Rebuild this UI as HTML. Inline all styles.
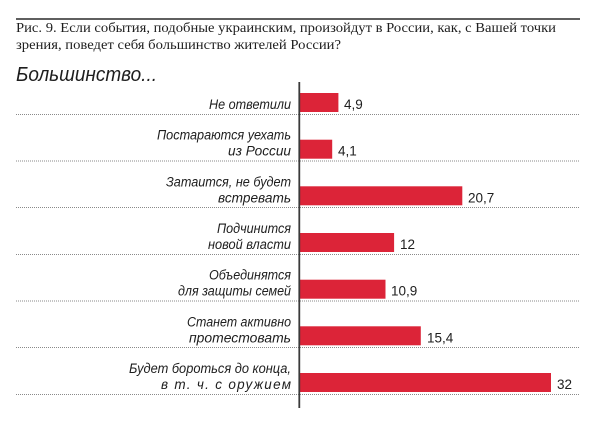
<!DOCTYPE html>
<html>
<head>
<meta charset="utf-8">
<style>
html,body{margin:0;padding:0;background:#fff;}
svg{display:block;}
.t{font-family:"Liberation Serif","DejaVu Serif",serif;font-size:14px;fill:#1e1e1e;}
.h{font-family:"Liberation Sans","DejaVu Sans",sans-serif;font-style:italic;font-size:20px;fill:#1e1e1e;}
.l{font-family:"Liberation Sans","DejaVu Sans",sans-serif;font-style:italic;font-size:13.5px;fill:#1e1e1e;}
.v{font-family:"Liberation Sans","DejaVu Sans",sans-serif;font-size:13.5px;fill:#1e1e1e;}
.d{stroke:#8a8a8a;stroke-width:1;stroke-dasharray:1 1;}
.b{fill:#dc2438;}
</style>
</head>
<body>
<svg width="600" height="427" viewBox="0 0 600 427" xmlns="http://www.w3.org/2000/svg">
<rect width="600" height="427" fill="#fff"/>
<line x1="16" y1="19" x2="580" y2="19" stroke="#2a2a2a" stroke-width="1.6"/>
<text class="t" x="16" y="32" textLength="540" lengthAdjust="spacingAndGlyphs">Рис. 9. Если события, подобные украинским, произойдут в России, как, с Вашей точки</text>
<text class="t" x="16" y="49" textLength="325" lengthAdjust="spacingAndGlyphs">зрения, поведет себя большинство жителей России?</text>
<text class="h" x="16" y="81" textLength="141" lengthAdjust="spacingAndGlyphs">Большинство...</text>

<line class="d" x1="16" y1="114.5" x2="580" y2="114.5"/>
<line class="d" x1="16" y1="161" x2="580" y2="161"/>
<line class="d" x1="16" y1="207.5" x2="580" y2="207.5"/>
<line class="d" x1="16" y1="254.5" x2="580" y2="254.5"/>
<line class="d" x1="16" y1="301" x2="580" y2="301"/>
<line class="d" x1="16" y1="347.5" x2="580" y2="347.5"/>
<line class="d" x1="16" y1="394.5" x2="580" y2="394.5"/>

<rect class="b" x="300" y="93" width="38.4" height="19"/>
<rect class="b" x="300" y="139.7" width="32.2" height="19"/>
<rect class="b" x="300" y="186.3" width="162.3" height="19"/>
<rect class="b" x="300" y="233" width="94.1" height="19"/>
<rect class="b" x="300" y="279.7" width="85.5" height="19"/>
<rect class="b" x="300" y="326.3" width="120.8" height="19"/>
<rect class="b" x="300" y="373" width="251" height="19"/>

<line x1="299.3" y1="82" x2="299.3" y2="408" stroke="#3a3a3a" stroke-width="1.8"/>

<text class="v" x="344" y="109">4,9</text>
<text class="v" x="338" y="155.7">4,1</text>
<text class="v" x="468" y="202.3">20,7</text>
<text class="v" x="400" y="249">12</text>
<text class="v" x="391" y="295.7">10,9</text>
<text class="v" x="427" y="342.3">15,4</text>
<text class="v" x="557" y="389">32</text>

<g text-anchor="end">
<text class="l" x="291" y="109" textLength="82" lengthAdjust="spacingAndGlyphs">Не ответили</text>
<text class="l" x="291" y="139.7" textLength="134" lengthAdjust="spacingAndGlyphs">Постараются уехать</text>
<text class="l" x="291" y="155.7" textLength="63" lengthAdjust="spacingAndGlyphs">из России</text>
<text class="l" x="291" y="186.3" textLength="125" lengthAdjust="spacingAndGlyphs">Затаится, не будет</text>
<text class="l" x="291" y="202.3" textLength="73" lengthAdjust="spacingAndGlyphs">встревать</text>
<text class="l" x="291" y="233" textLength="74" lengthAdjust="spacingAndGlyphs">Подчинится</text>
<text class="l" x="291" y="249" textLength="83" lengthAdjust="spacingAndGlyphs">новой власти</text>
<text class="l" x="291" y="279.7" textLength="82" lengthAdjust="spacingAndGlyphs">Объединятся</text>
<text class="l" x="291" y="295.7" textLength="113" lengthAdjust="spacingAndGlyphs">для защиты семей</text>
<text class="l" x="291" y="326.3" textLength="104" lengthAdjust="spacingAndGlyphs">Станет активно</text>
<text class="l" x="291" y="342.3" textLength="102" lengthAdjust="spacingAndGlyphs">протестовать</text>
<text class="l" x="291" y="373" textLength="162" lengthAdjust="spacingAndGlyphs">Будет бороться до конца,</text>
<text class="l" x="291" y="389" textLength="130" lengthAdjust="spacing">в т. ч. с оружием</text>
</g>
</svg>
</body>
</html>
